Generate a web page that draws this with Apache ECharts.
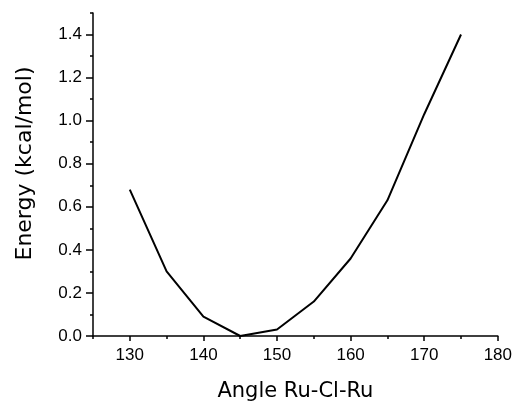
<!DOCTYPE html>
<html>
<head>
<meta charset="utf-8">
<script src="https://cdn.jsdelivr.net/npm/echarts@6/dist/echarts.min.js"></script>
<style>html,body{margin:0;padding:0;background:#fff}#c{width:515px;height:407px}</style>
</head>
<body>
<div id="c"></div>
<script>
const angles = [130, 135, 140, 145, 150, 155, 160, 165, 170, 175];
const energies = [0.68, 0.30, 0.09, 0.0, 0.03, 0.16, 0.36, 0.63, 1.03, 1.40];
const xMajorTicks = [130, 140, 150, 160, 170, 180];
const yMajorTicks = [0, 0.2, 0.4, 0.6, 0.8, 1.0, 1.2, 1.4];
const xTitle = 'Angle Ru-Cl-Ru';
const yTitle = 'Energy (kcal/mol)';

const tickFont = {color: '#000', fontFamily: 'Liberation Sans, Arial, sans-serif', fontSize: 17};
const xTitleFont = {color: '#000', fontFamily: 'DejaVu Sans, sans-serif', fontSize: 21};
const yTitleFont = {color: '#000', fontFamily: 'DejaVu Sans, sans-serif', fontSize: 22};

const chart = echarts.init(document.getElementById('c'));
chart.setOption({
  animation: false,
  backgroundColor: '#fff',
  grid: {left: 93, right: 17, top: 13, bottom: 68, containLabel: false},
  xAxis: [{
    type: 'value', min: 125, max: 180, interval: 5,
    axisLine: {show: true, onZero: false, lineStyle: {color: '#000', width: 1.5}},
    axisTick: {show: true, length: 5, customValues: xMajorTicks, lineStyle: {color: '#000', width: 1.5}},
    axisLabel: Object.assign({customValues: xMajorTicks, margin: 11, formatter: v => String(v)}, tickFont),
    splitLine: {show: false},
    name: xTitle, nameLocation: 'middle', nameGap: 45, nameTextStyle: xTitleFont
  }, {
    type: 'value', min: 125, max: 180, interval: 5, position: 'bottom',
    axisLine: {show: false}, axisTick: {show: true, length: 3, lineStyle: {color: '#000', width: 1.5}},
    axisLabel: {show: false}, splitLine: {show: false}
  }],
  yAxis: [{
    type: 'value', min: 0, max: 1.5, interval: 0.1,
    axisLine: {show: true, onZero: false, lineStyle: {color: '#000', width: 1.5}},
    axisTick: {show: true, length: 7, customValues: yMajorTicks, lineStyle: {color: '#000', width: 1.5}},
    axisLabel: Object.assign({customValues: yMajorTicks, margin: 11, formatter: v => v.toFixed(1)}, tickFont),
    splitLine: {show: false},
    name: yTitle, nameLocation: 'middle', nameRotate: 90, nameGap: 57,
    nameTextStyle: Object.assign({padding: [0, 0, 0, 22]}, yTitleFont)
  }, {
    type: 'value', min: 0, max: 1.5, interval: 0.1, position: 'left',
    axisLine: {show: false}, axisTick: {show: true, length: 3, lineStyle: {color: '#000', width: 1.5}},
    axisLabel: {show: false}, splitLine: {show: false}
  }],
  series: [{
    type: 'line', xAxisIndex: 0, yAxisIndex: 0,
    data: angles.map((a, i) => [a, energies[i]]),
    showSymbol: false, symbol: 'none', smooth: false,
    lineStyle: {color: '#000', width: 2}
  }]
});
</script>
</body>
</html>
